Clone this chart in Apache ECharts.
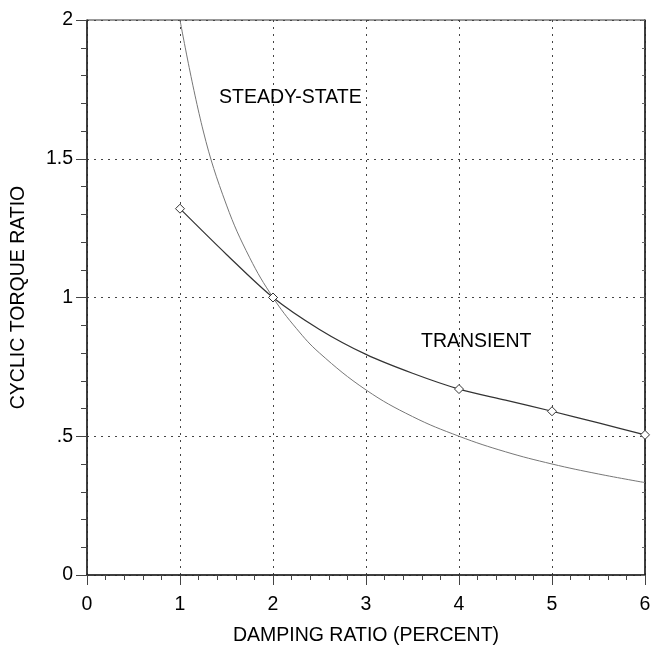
<!DOCTYPE html>
<html>
<head>
  <meta charset="utf-8" />
  <title>Cyclic torque ratio</title>
  <script src="https://cdn.jsdelivr.net/npm/echarts@6/dist/echarts.min.js"></script>
  <style>
    html, body { margin: 0; padding: 0; background: #fff; }
  </style>
</head>
<body>
  <div id="main" style="width: 652px;height:647px;"></div>
  <script type="text/javascript">
    // values
    var steadyX = [1, 1.25, 1.5, 1.75, 2, 2.25, 2.5, 3, 3.5, 4, 4.5, 5, 5.5, 6];
    var steadyY = [2.0, 1.6, 1.333, 1.143, 1.0, 0.889, 0.8, 0.667, 0.571, 0.5, 0.444, 0.4, 0.364, 0.333];

    var transX = [1, 1.5, 2, 2.5, 3, 3.5, 4, 4.5, 5, 5.5, 6];
    var transY = [1.32, 1.155, 1.0, 0.885, 0.795, 0.727, 0.67, 0.63, 0.59, 0.548, 0.505];
    var transMarked = [1, 2, 4, 5, 6]; // x values with a diamond

    var xTicks = ['0', '1', '2', '3', '4', '5', '6'];
    var yTicks = { 0: '0', 0.5: '.5', 1: '1', 1.5: '1.5', 2: '2' };

    var font = 'Liberation Sans, Arial, sans-serif';
    var fs = 19.5;

    var steadyData = steadyX.map((x, i) => [x, steadyY[i]]);
    var transData = transX.map((x, i) => {
      var item = { value: [x, transY[i]] };
      if (transMarked.indexOf(x) < 0) item.symbol = 'none';
      return item;
    });

    var myChart = echarts.init(document.getElementById('main'));

    var option = {
      animation: false,
      backgroundColor: '#fff',
      grid: {
        left: 87, right: 7, top: 20, bottom: 72,
        outerBoundsMode: 'none',
        containLabel: false,
        show: true, borderColor: '#333', borderWidth: 1
      },
      xAxis: [{
        type: 'value',
        min: 0, max: 6, interval: 1,
        name: 'DAMPING RATIO (PERCENT)',
        nameLocation: 'middle',
        nameGap: 51,
        nameTextStyle: { fontFamily: font, fontSize: fs, color: '#000' },
        axisLine: { lineStyle: { color: '#222', width: 1.5 } },
        axisTick: { length: 10, lineStyle: { color: '#444' } },
        minorTick: { show: true, splitNumber: 5, length: 5, lineStyle: { color: '#444' } },
        axisLabel: {
          margin: 20, fontFamily: font, fontSize: fs, color: '#000',
          formatter: v => xTicks[Math.round(v)]
        },
        splitLine: { show: true, lineStyle: { type: [2, 5], color: '#444', width: 1 } }
      }],
      yAxis: [{
        type: 'value',
        min: 0, max: 2, interval: 0.5,
        name: 'CYCLIC TORQUE RATIO',
        nameLocation: 'middle',
        nameGap: 58,
        nameTextStyle: { fontFamily: font, fontSize: fs, color: '#000' },
        axisLine: { show: true, lineStyle: { color: '#222', width: 1.5 } },
        axisTick: { show: true, length: 11, lineStyle: { color: '#444' } },
        minorTick: { show: true, splitNumber: 5, length: 6, lineStyle: { color: '#444' } },
        axisLabel: {
          margin: 14, fontFamily: font, fontSize: fs, color: '#000',
          formatter: v => yTicks[v]
        },
        splitLine: { show: true, lineStyle: { type: [2, 5], color: '#444', width: 1 } }
      }, {
        type: 'value',
        position: 'right',
        min: 0, max: 2, interval: 0.5,
        axisLine: { show: true, lineStyle: { color: '#222', width: 1.5 } },
        axisTick: { show: true, inside: true, length: 4, lineStyle: { color: '#666' } },
        minorTick: { show: true, splitNumber: 5, length: 3, lineStyle: { color: '#666' } },
        axisLabel: { show: false },
        splitLine: { show: false }
      }],
      series: [
        {
          name: 'STEADY-STATE',
          type: 'line',
          data: steadyData,
          smooth: 0.4,
          symbol: 'none',
          clip: true,
          lineStyle: { color: '#777', width: 1 }
        },
        {
          name: 'TRANSIENT',
          type: 'line',
          data: transData,
          smooth: 0.3,
          symbol: 'diamond',
          symbolSize: 9,
          itemStyle: { color: '#fff', borderColor: '#333', borderWidth: 1 },
          lineStyle: { color: '#333', width: 1.2 }
        }
      ],
      graphic: [
        {
          type: 'text', left: 219, top: 88,
          style: { text: 'STEADY-STATE', fontFamily: font, fontSize: fs, fill: '#000' }
        },
        {
          type: 'text', left: 421, top: 332,
          style: { text: 'TRANSIENT', fontFamily: font, fontSize: fs, fill: '#000' }
        }
      ]
    };
    option && myChart.setOption(option);
  </script>
</body>
</html>
